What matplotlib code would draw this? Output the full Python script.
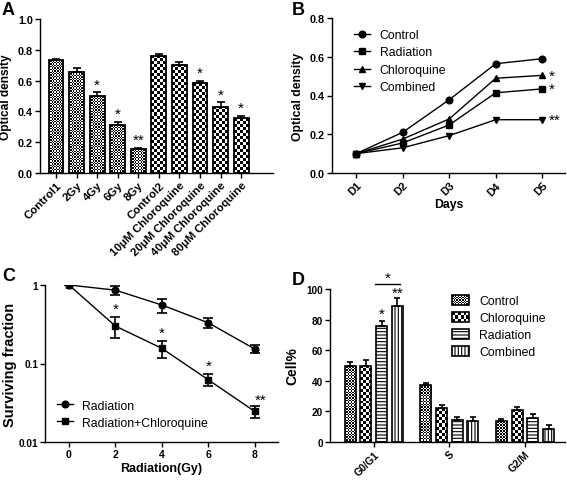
import numpy as np
import matplotlib
matplotlib.use("Agg")
import matplotlib.pyplot as plt
from matplotlib.patches import Rectangle, Patch
from matplotlib.legend_handler import HandlerBase

plt.rcParams['font.family'] = ['Liberation Sans', 'DejaVu Sans']
plt.rcParams['hatch.linewidth'] = 0.8
plt.rcParams['axes.linewidth'] = 1.0

# ---- data ----
# panel A
a_labels = ["Control1", "2Gy", "4Gy", "6Gy", "8Gy", "Control2",
            "10\u03bcM Chloroquine", "20\u03bcM Chloroquine",
            "40\u03bcM Chloroquine", "80\u03bcM Chloroquine"]
a_vals = [0.734, 0.654, 0.502, 0.314, 0.156, 0.762, 0.703, 0.582, 0.430, 0.355]
a_err = [0.008, 0.028, 0.022, 0.020, 0.007, 0.008, 0.015, 0.018, 0.028, 0.018]
a_stars = ["", "", "*", "*", "**", "", "", "*", "*", "*"]

# panel B
b_days = ["D1", "D2", "D3", "D4", "D5"]
b_control = [0.10, 0.21, 0.378, 0.564, 0.59]
b_radiation = [0.10, 0.155, 0.248, 0.414, 0.434]
b_chloroquine = [0.10, 0.175, 0.279, 0.489, 0.504]
b_combined = [0.10, 0.13, 0.193, 0.275, 0.275]

# panel C
c_dose = [0, 2, 4, 6, 8]
c_rad = [1.0, 0.86, 0.556, 0.33, 0.153]
c_rad_err = [0.0, 0.11, 0.11, 0.045, 0.017]
c_radchl = [1.0, 0.30, 0.156, 0.062, 0.0245]
c_radchl_err = [0.0, 0.09, 0.04, 0.011, 0.004]
c_stars = ["", "*", "*", "*", "**"]

# panel D
d_phases = ["G0/G1", "S", "G2/M"]
d_groups = ["Control", "Chloroquine", "Radiation", "Combined"]
d_control = [50.0, 37.0, 14.0]
d_chloroquine = [50.0, 22.0, 21.0]
d_radiation = [75.5, 14.5, 16.0]
d_combined = [89.0, 13.5, 8.5]
d_control_err = [2.0, 1.5, 1.0]
d_chloroquine_err = [3.5, 2.5, 2.0]
d_radiation_err = [3.5, 2.0, 2.5]
d_combined_err = [5.0, 3.0, 2.5]

W, H = 567, 481
fig = plt.figure(figsize=(W / 100, H / 100), dpi=100)

LEG = 8.8


def box(l, t, r, b):
    # pixel box -> figure fraction
    return [l / W, 1 - b / H, (r - l) / W, (b - t) / H]


def style(ax, xs=7.8, ys=7.8):
    ax.spines['top'].set_visible(False)
    ax.spines['right'].set_visible(False)
    ax.tick_params(direction='out', length=3.5, width=1.0, pad=1.5)
    ax.tick_params(axis='x', labelsize=xs)
    ax.tick_params(axis='y', labelsize=ys)
    for t in ax.get_xticklabels() + ax.get_yticklabels():
        t.set_fontweight('bold')


def checker(ax, bars, cell):
    # checkerboard texture clipped to each bar
    xr = ax.get_xlim()
    yr = ax.get_ylim()
    for b in bars:
        x0, y0, w, h = b.get_x(), b.get_y(), b.get_width(), b.get_height()
        wpx = w / (xr[1] - xr[0]) * ax.bbox.width
        hpx = h / (yr[1] - yr[0]) * ax.bbox.height
        nx = max(1, int(round(wpx / cell)))
        ny = max(1, int(round(hpx / cell)))
        arr = np.indices((ny, nx)).sum(axis=0) % 2
        im = ax.imshow(arr, cmap='gray', extent=(x0, x0 + w, y0, y0 + h),
                       origin='upper', aspect='auto', interpolation='nearest',
                       zorder=1.5)
        im.set_clip_path(b)
    ax.set_xlim(xr)
    ax.set_ylim(yr)


class CheckerHandler(HandlerBase):
    def __init__(self, cell):
        super().__init__()
        self.cell = cell

    def create_artists(self, legend, orig_handle, xdescent, ydescent,
                       width, height, fontsize, trans):
        c = self.cell * 72 / 100
        arts = [Rectangle((-xdescent, -ydescent), width, height,
                          facecolor='white', edgecolor='none', transform=trans)]
        nx = int(round(width / c))
        ny = int(round(height / c))
        cw, ch = width / nx, height / ny
        for i in range(nx):
            for j in range(ny):
                if (i + j) % 2 == 0:
                    arts.append(Rectangle((-xdescent + i * cw, -ydescent + j * ch), cw, ch,
                                          facecolor='black', edgecolor='none',
                                          transform=trans))
        arts.append(Rectangle((-xdescent, -ydescent), width, height,
                              facecolor='none', edgecolor='black', lw=1.2,
                              transform=trans))
        return arts


# ---------------- A ----------------
axA = fig.add_axes(box(40, 20, 273, 174))
xa = np.arange(len(a_labels))
axA.set_xlim(-0.78, 10.55)
axA.set_ylim(0, 1.0)
barsA = axA.bar(xa, a_vals, width=0.72, facecolor='none', edgecolor='black',
                linewidth=1.3, zorder=2)
axA.errorbar(xa, a_vals, yerr=[np.zeros(len(a_vals)), a_err], fmt='none',
             ecolor='black', elinewidth=1.2, capsize=3, capthick=1.2, zorder=3)
checker(axA, list(barsA)[:5], 1.4)
checker(axA, list(barsA)[5:], 3.0)
for x, v, e, s in zip(xa, a_vals, a_err, a_stars):
    if s:
        axA.text(x, v + e + 0.005, s, ha='center', va='bottom', fontsize=11)
axA.set_yticks(np.arange(0, 1.01, 0.2))
axA.set_yticklabels(["%.1f" % v for v in np.arange(0, 1.01, 0.2)])
axA.set_xticks(xa)
axA.set_xticklabels(a_labels, rotation=45, ha='right', rotation_mode='anchor')
axA.set_ylabel("Optical density", fontsize=8.6, fontweight='bold', labelpad=4)
style(axA, xs=8.2)

# ---------------- B ----------------
axB = fig.add_axes(box(332, 19, 565, 174))
xb = np.arange(len(b_days))
kw = dict(color='black', lw=1.0, ms=4.8)
axB.plot(xb, b_control, marker='o', label='Control', **kw)
axB.plot(xb, b_radiation, marker='s', label='Radiation', **kw)
axB.plot(xb, b_chloroquine, marker='^', label='Chloroquine', **kw)
axB.plot(xb, b_combined, marker='v', label='Combined', **kw)
axB.text(xb[-1] + 0.15, b_chloroquine[-1], "*", fontsize=11, va='center')
axB.text(xb[-1] + 0.15, b_radiation[-1], "*", fontsize=11, va='center')
axB.text(xb[-1] + 0.15, b_combined[-1], "**", fontsize=11, va='center')
axB.set_xlim(-0.52, 4.49)
axB.set_ylim(0, 0.8)
axB.set_yticks(np.arange(0, 0.81, 0.2))
axB.set_yticklabels(["%.1f" % v for v in np.arange(0, 0.81, 0.2)])
axB.set_xticks(xb)
axB.set_xticklabels(b_days, rotation=45, ha='right', rotation_mode='anchor')
axB.set_ylabel("Optical density", fontsize=8.8, fontweight='bold', labelpad=4)
axB.set_xlabel("Days", fontsize=8.8, fontweight='bold', labelpad=1)
axB.legend(loc='upper left', bbox_to_anchor=(0.095, 0.93), frameon=False,
           fontsize=LEG, handlelength=1.3, handletextpad=0.8, labelspacing=0.45,
           borderpad=0, borderaxespad=0)
style(axB)

# ---------------- C ----------------
axC = fig.add_axes(box(45, 286, 278, 443))
axC.set_yscale('log')
axC.plot(c_dose, c_rad, color='black', marker='o', ms=4.8, lw=1.0, label='Radiation')
axC.plot(c_dose, c_radchl, color='black', marker='s', ms=4.8, lw=1.0,
         label='Radiation+Chloroquine')
axC.errorbar(c_dose, c_rad, yerr=c_rad_err, fmt='none', ecolor='black',
             capsize=3.5, elinewidth=1.2, capthick=1.2)
axC.errorbar(c_dose, c_radchl, yerr=c_radchl_err, fmt='none', ecolor='black',
             capsize=3.5, elinewidth=1.2, capthick=1.2)
for x, v, e, s in zip(c_dose, c_radchl, c_radchl_err, c_stars):
    if s == "*":
        axC.text(x, (v + e) * 1.03, s, ha='center', va='bottom', fontsize=11)
    elif s:
        axC.text(x + 0.25, (v + e) * 1.0, s, ha='center', va='bottom', fontsize=11)
axC.set_xlim(-1.03, 9.0)
axC.set_ylim(0.01, 1)
axC.set_yticks([0.01, 0.1, 1])
axC.set_yticklabels(["0.01", "0.1", "1"])
axC.yaxis.set_minor_locator(matplotlib.ticker.NullLocator())
axC.set_xticks(c_dose)
axC.set_ylabel("Surviving fraction", fontsize=10.5, fontweight='bold', labelpad=1)
axC.set_xlabel("Radiation(Gy)", fontsize=9, fontweight='bold', labelpad=2)
axC.legend(loc='lower left', bbox_to_anchor=(0.05, 0.085), frameon=False,
           fontsize=LEG, handlelength=1.3, handletextpad=0.8, labelspacing=0.4,
           borderpad=0, borderaxespad=0)
style(axC, xs=7.6, ys=7.2)

# ---------------- D ----------------
axD = fig.add_axes(box(330, 290, 565, 443))
xd = np.arange(len(d_phases))
bw = 0.146
offs = [-0.312, -0.104, 0.104, 0.312]
d_vals = [d_control, d_chloroquine, d_radiation, d_combined]
d_errs = [d_control_err, d_chloroquine_err, d_radiation_err, d_combined_err]
hatches = [None, None, '-----', '|||||']
d_bars = []
for k in range(4):
    bars = axD.bar(xd + offs[k], d_vals[k], width=bw, facecolor='none' if k < 2 else 'white',
                   edgecolor='black', linewidth=1.2, hatch=hatches[k], zorder=2)
    axD.errorbar(xd + offs[k], d_vals[k], yerr=[np.zeros(3), d_errs[k]], fmt='none',
                 ecolor='black', elinewidth=1.2, capsize=2.5, capthick=1.2, zorder=3)
    d_bars.append(bars)
axD.set_xlim(-0.58, 2.53)
axD.set_ylim(0, 100)
checker(axD, d_bars[0], 1.4)
checker(axD, d_bars[1], 3.0)
axD.text(xd[0] + offs[2], d_radiation[0] + d_radiation_err[0] + 0.5, "*",
         ha='center', va='bottom', fontsize=11)
axD.text(xd[0] + offs[3], d_combined[0] + d_combined_err[0] - 1.0, "**",
         ha='center', va='bottom', fontsize=11)
axD.plot([xd[0] + 0.01, xd[0] + 0.35], [103, 103], color='black', lw=1.0, clip_on=False)
axD.text(xd[0] + 0.18, 102.5, "*", ha='center', va='bottom', fontsize=11)
axD.set_yticks(np.arange(0, 101, 20))
axD.set_xticks(xd)
axD.set_xticklabels(d_phases, rotation=45, ha='right', rotation_mode='anchor')
axD.set_ylabel("Cell%", fontsize=10, fontweight='bold', labelpad=5)
handles = [Patch(facecolor='white', edgecolor='black'),
           Patch(facecolor='white', edgecolor='black'),
           Patch(facecolor='white', edgecolor='black', hatch='-----', lw=1.2),
           Patch(facecolor='white', edgecolor='black', hatch='|||||', lw=1.2)]
axD.legend(handles, d_groups, loc='upper left', bbox_to_anchor=(0.52, 0.96),
           frameon=False, fontsize=LEG, handlelength=1.4, handleheight=0.85,
           handletextpad=0.8, labelspacing=0.4, borderpad=0, borderaxespad=0,
           handler_map={handles[0]: CheckerHandler(1.4), handles[1]: CheckerHandler(3.0)})
style(axD, xs=7.4, ys=7.2)

# panel letters
for lab, x, y in [("A", 2, 2), ("B", 292, 2), ("C", 2, 268), ("D", 292, 272)]:
    fig.text(x / W, 1 - y / H, lab, fontsize=13, fontweight='bold', va='top', ha='left')

fig.savefig("out.png", dpi=100)
